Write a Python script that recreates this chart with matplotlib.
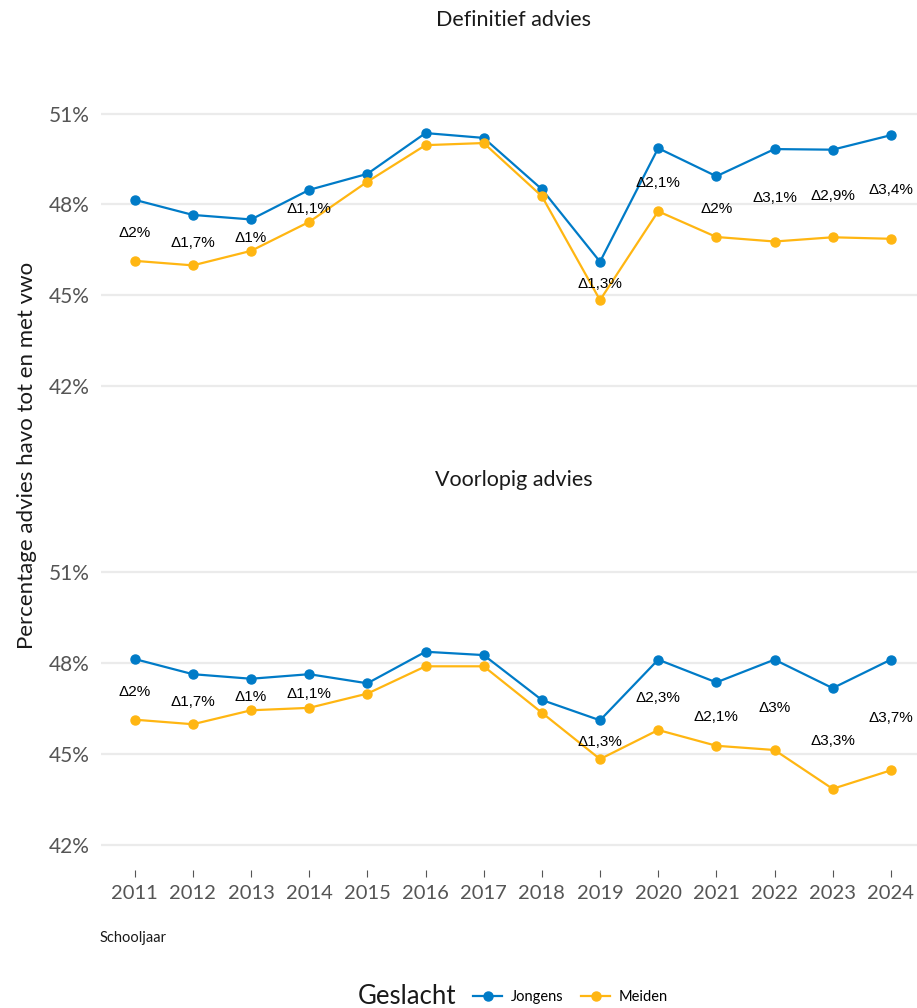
import matplotlib
matplotlib.use("Agg")
import matplotlib.pyplot as plt
from matplotlib.lines import Line2D

years = list(range(2011, 2025))

# Definitief advies
def_jongens = [48.15, 47.65, 47.50, 48.48, 49.01, 50.36, 50.20, 48.50, 46.10, 49.86, 48.93, 49.83, 49.81, 50.29]
def_meiden = [46.13, 45.98, 46.46, 47.42, 48.75, 49.96, 50.03, 48.27, 44.83, 47.77, 46.92, 46.77, 46.91, 46.86]
def_labels = ['Δ2%', 'Δ1,7%', 'Δ1%', 'Δ1,1%', '', '', '', '', 'Δ1,3%', 'Δ2,1%', 'Δ2%', 'Δ3,1%', 'Δ2,9%', 'Δ3,4%']

# Voorlopig advies
voo_jongens = [48.14, 47.64, 47.49, 47.64, 47.34, 48.38, 48.27, 46.79, 46.12, 48.12, 47.37, 48.12, 47.18, 48.12]
voo_meiden = [46.14, 45.99, 46.45, 46.53, 47.00, 47.90, 47.90, 46.37, 44.84, 45.80, 45.28, 45.14, 43.86, 44.47]
voo_labels = ['Δ2%', 'Δ1,7%', 'Δ1%', 'Δ1,1%', '', '', '', '', 'Δ1,3%', 'Δ2,3%', 'Δ2,1%', 'Δ3%', 'Δ3,3%', 'Δ3,7%']

y_ticks = [42, 45, 48, 51]
y_ticklabels = ['42%', '45%', '48%', '51%']

BLUE = '#007BC7'
ORANGE = '#FFB612'
GRID = '#EBEBEB'
TICK_GREY = '#555555'
FONT = 'Lato'


def draw_panel(ax, jongens, meiden, labels, show_x):
    ax.set_facecolor('white')
    for s in ax.spines.values():
        s.set_visible(False)
    ax.set_yticks(y_ticks)
    ax.set_yticklabels(y_ticklabels, fontfamily=FONT, fontsize=15, color=TICK_GREY)
    ax.grid(axis='y', color=GRID, linewidth=1.6)
    ax.grid(axis='x', visible=False)
    ax.set_axisbelow(True)
    ax.tick_params(axis='y', length=0, pad=8)

    ax.plot(years, jongens, color=BLUE, linewidth=1.6, marker='o', markersize=6.5, label='Jongens')
    ax.plot(years, meiden, color=ORANGE, linewidth=1.6, marker='o', markersize=6.5, label='Meiden')

    # difference label halfway between the two lines
    for yr, j, m, lab in zip(years, jongens, meiden, labels):
        if lab:
            ax.annotate(lab, (yr, (j + m) / 2), xytext=(0, -2), textcoords='offset points',
                        ha='center', va='center', fontsize=11,
                        fontfamily='Liberation Sans', color='black')

    ax.set_xlim(2010.42, 2024.45)
    ax.set_ylim(41.2, 52.75)
    ax.set_xticks(years)
    if show_x:
        ax.set_xticklabels([str(y) for y in years], fontfamily=FONT, fontsize=14.5, color=TICK_GREY)
        ax.tick_params(axis='x', length=5, width=0.8, color=TICK_GREY, pad=6)
    else:
        ax.tick_params(axis='x', length=0, labelbottom=False)


fig = plt.figure(figsize=(9.17, 10.08), dpi=100)
left = 101 / 917
width = 816 / 917
ax_top = fig.add_axes([left, 0.5935, width, 0.3461])
ax_bot = fig.add_axes([left, 0.1374, width, 0.3475])

draw_panel(ax_top, def_jongens, def_meiden, def_labels, show_x=False)
draw_panel(ax_bot, voo_jongens, voo_meiden, voo_labels, show_x=True)

fig.text(514 / 917, 1 - 20 / 1008, 'Definitief advies', ha='center', va='center',
         fontsize=15.5, fontfamily=FONT, color='#1A1A1A')
fig.text(514 / 917, 1 - 480 / 1008, 'Voorlopig advies', ha='center', va='center',
         fontsize=15.5, fontfamily=FONT, color='#1A1A1A')
fig.text(27 / 917, 1 - 455 / 1008, 'Percentage advies havo tot en met vwo', rotation=90,
         ha='center', va='center', fontsize=16, fontfamily=FONT, color='#1A1A1A')
fig.text(100 / 917, 1 - 938 / 1008, 'Schooljaar', ha='left', va='center',
         fontsize=10.5, fontfamily=FONT, color='#1A1A1A')

# legend with title on the left
fig.text(358 / 917, 1 - 996 / 1008, 'Geslacht', ha='left', va='center',
         fontsize=18.5, fontfamily=FONT, color='#1A1A1A')
handles = [Line2D([0], [0], color=BLUE, linewidth=1.6, marker='o', markersize=6.5),
           Line2D([0], [0], color=ORANGE, linewidth=1.6, marker='o', markersize=6.5)]
fig.legend(handles, ['Jongens', 'Meiden'], loc='center left', bbox_to_anchor=(460 / 917, 1 - 997 / 1008),
           ncol=2, frameon=False, handlelength=2.0, handletextpad=0.6, columnspacing=1.2,
           prop={'family': FONT, 'size': 10.5})

fig.savefig('out.png', dpi=100, facecolor='white')
